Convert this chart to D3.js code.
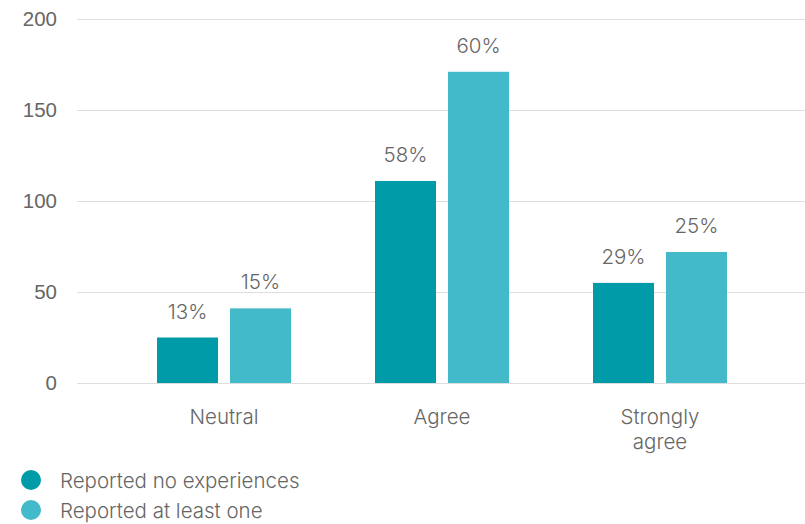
<!DOCTYPE html>
<html>
<head>
<meta charset="utf-8">
<script src="https://cdn.jsdelivr.net/npm/d3@7"></script>
<style>
  html, body { margin: 0; padding: 0; background: #fff; }
  svg { display: block; font-family: Inter, "Noto Sans", sans-serif; }
</style>
</head>
<body>
<svg id="chart" width="805" height="524"></svg>
<script>
const categories = ["Neutral", "Agree", "Strongly agree"];
const seriesNames = ["Reported no experiences", "Reported at least one"];
const noExperiences = [25, 111, 55];
const atLeastOne = [41, 171, 72];
const noExperiencesPct = ["13%", "58%", "29%"];
const atLeastOnePct = ["15%", "60%", "25%"];
const yTicks = [0, 50, 100, 150, 200];
const colors = ["#009ba8", "#42bac9"];

const svg = d3.select("#chart");
const textColor = "#666666";
const fs = 20.5;

const y = d3.scaleLinear().domain([0, 200]).range([383, 19]);
const x0 = d3.scaleBand().domain(categories).range([115, 769]).paddingInner(0).paddingOuter(0);
const x1 = d3.scaleBand().domain(seriesNames).range([42, 176]).paddingInner(0.1644);

// gridlines + y axis labels
const yAxis = d3.axisLeft(y).tickValues(yTicks).tickSize(-(805 - 77)).tickPadding(20);
const gy = svg.append("g").attr("transform", "translate(77,0)").call(yAxis);
gy.select(".domain").remove();
gy.selectAll(".tick line").attr("stroke", "#dedede").attr("stroke-width", 1.2);
gy.selectAll(".tick text").attr("fill", textColor).attr("font-size", fs).attr("font-weight", 300);

const data = categories.map((c, i) => ({
  cat: c,
  vals: [
    { s: seriesNames[0], v: noExperiences[i], p: noExperiencesPct[i], c: colors[0] },
    { s: seriesNames[1], v: atLeastOne[i], p: atLeastOnePct[i], c: colors[1] }
  ]
}));

const groups = svg.append("g").selectAll("g").data(data).join("g")
  .attr("transform", d => `translate(${x0(d.cat)},0)`);

groups.selectAll("rect").data(d => d.vals).join("rect")
  .attr("x", d => x1(d.s))
  .attr("width", x1.bandwidth())
  .attr("y", d => y(d.v))
  .attr("height", d => y(0) - y(d.v))
  .attr("fill", d => d.c);

groups.selectAll("text.pct").data(d => d.vals).join("text")
  .attr("class", "pct")
  .attr("x", d => x1(d.s) + x1.bandwidth() / 2)
  .attr("y", d => y(d.v) - 19)
  .attr("text-anchor", "middle")
  .attr("fill", textColor)
  .attr("font-size", fs)
  .attr("font-weight", 300)
  .text(d => d.p);

// category labels (wrapped)
const wrapMap = { "Strongly agree": ["Strongly", "agree"] };
groups.append("text")
  .attr("text-anchor", "middle")
  .attr("fill", textColor)
  .attr("font-size", fs)
  .attr("font-weight", 300)
  .each(function(d) {
    const lines = wrapMap[d.cat] || [d.cat];
    const t = d3.select(this);
    lines.forEach((ln, i) => {
      t.append("tspan").attr("x", x1.range()[0] + (x1.range()[1] - x1.range()[0]) / 2)
        .attr("y", 424 + i * 25).text(ln);
    });
  });

// legend
const legend = svg.append("g").selectAll("g").data(seriesNames).join("g")
  .attr("transform", (d, i) => `translate(31,${480 + i * 30})`);
legend.append("circle").attr("r", 10).attr("fill", (d, i) => colors[i]);
legend.append("text").attr("x", 29).attr("y", 7.5)
  .attr("fill", textColor).attr("font-size", fs).attr("font-weight", 300)
  .text(d => d);
</script>
</body>
</html>
